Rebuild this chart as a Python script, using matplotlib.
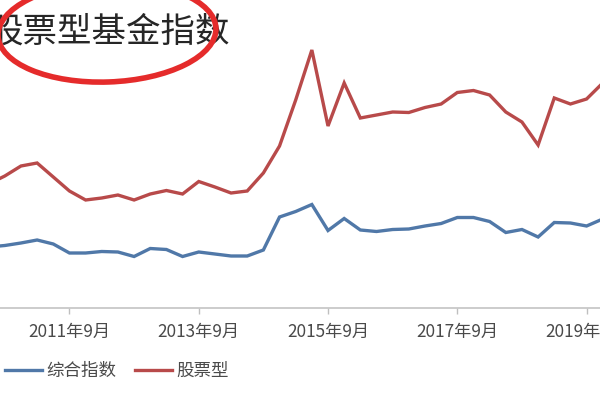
import matplotlib
matplotlib.use("Agg")
import matplotlib.pyplot as plt
from matplotlib.patches import Ellipse
from matplotlib.lines import Line2D
from matplotlib.transforms import IdentityTransform

plt.rcParams['font.family'] = ['Noto Sans CJK SC', 'DejaVu Sans']

# Quarterly categories
quarters = []
for yr in range(2010, 2020):
    for m in (3, 6, 9, 12):
        if yr == 2010 and m < 6:
            continue
        quarters.append(f"{yr}年{m}月")

composite = [605, 620, 645, 675, 635, 545, 545, 560, 555, 510,
             590, 580, 510, 555, 535, 515, 515, 575, 905, 960,
             1030, 770, 890, 775, 760, 780, 785, 815, 840, 900,
             900, 860, 750, 780, 705, 850, 845, 815, 885]
stock = [1235, 1315, 1415, 1445, 1305, 1165, 1075, 1095, 1125, 1075,
         1135, 1170, 1135, 1260, 1205, 1145, 1165, 1345, 1615, 2075,
         2575, 1815, 2245, 1895, 1925, 1955, 1950, 2000, 2035, 2150,
         2170, 2125, 1955, 1855, 1625, 2095, 2035, 2085, 2245]

series_names = ["综合指数", "股票型"]
title_text = "股票型基金指数"
tick_labels = ["2011年9月", "2013年9月", "2015年9月", "2017年9月", "2019年9月"]

blue = "#5078a8"
red = "#b84a4a"

fig = plt.figure(figsize=(6, 4), dpi=100)
fig.patch.set_facecolor("white")
ax = fig.add_axes([0, 0.23125, 1, 0.75])

x = list(range(len(quarters)))
ax.plot(x, composite, color=blue, lw=2.4, solid_joinstyle='miter', label=series_names[0])
ax.plot(x, stock, color=red, lw=2.4, solid_joinstyle='miter', label=series_names[1])

ax.set_xlim(0.703, 37.83)
ax.set_ylim(0, 3000)
ticks = [quarters.index(t) for t in tick_labels]
ax.set_xticks(ticks)
ax.set_xticklabels(tick_labels, fontsize=12.4, color="#4a4a4a", fontweight="medium")
ax.tick_params(axis='x', direction='out', length=4, width=1, color="#bfbfbf", pad=7)
ax.set_yticks([])
for s in ("left", "right", "top"):
    ax.spines[s].set_visible(False)
ax.spines["bottom"].set_color("#c4c4c4")
ax.spines["bottom"].set_linewidth(1.2)
ax.set_facecolor("none")

leg = fig.legend(handles=[Line2D([], [], color=blue, lw=2.4), Line2D([], [], color=red, lw=2.4)],
                 labels=series_names, loc="center left", bbox_to_anchor=(0.008, 1 - 371 / 400),
                 ncol=2, frameon=False, fontsize=12.6, labelcolor="#4a4a4a",
                 handlelength=2.1, handletextpad=0.25, columnspacing=1.1,
                 borderpad=0, borderaxespad=0)

fig.text(-11 / 600, 1 - 32 / 400, title_text, fontsize=24.8, color="#262626",
         ha="left", va="center", fontweight="medium", zorder=1)

ell = Ellipse((107, 400 - 32), 218, 100, angle=2, fill=False, edgecolor="#e52b2b",
              lw=4, transform=IdentityTransform(), zorder=5)
fig.patches.append(ell)

fig.savefig("out.png", dpi=100, facecolor="white")
